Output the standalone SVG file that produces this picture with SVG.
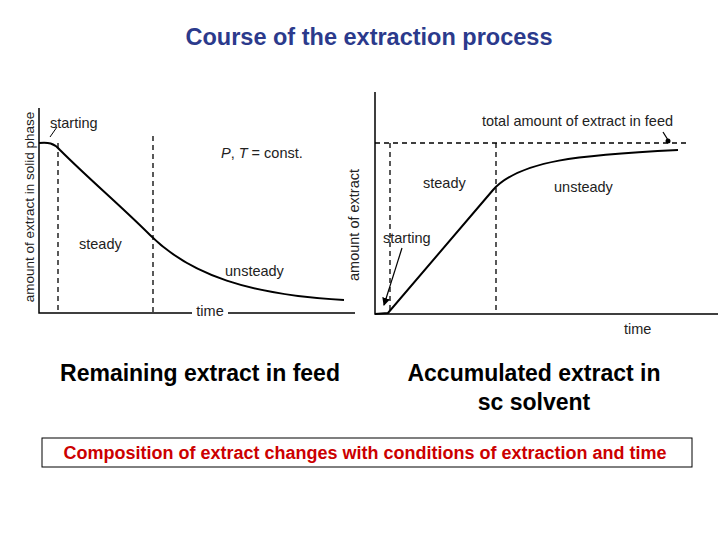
<svg xmlns="http://www.w3.org/2000/svg" width="720" height="540" viewBox="0 0 720 540">
<style>
.s{font-family:"Liberation Sans",Arial,sans-serif;font-size:14.5px;fill:#222}
.ax{stroke:#000;stroke-width:1.5;fill:none}
.d{stroke:#000;stroke-width:1.3;stroke-dasharray:5,4;fill:none}
.c{stroke:#000;stroke-width:2;fill:none}
.big{font-family:"Liberation Sans",Arial,sans-serif;font-size:23px;font-weight:bold;fill:#000}
</style>
<defs><marker id="a" markerWidth="8" markerHeight="8" refX="7" refY="4" orient="auto" markerUnits="userSpaceOnUse"><path d="M0,0 L8,4 L0,8 z" fill="#000"/></marker></defs>
<rect width="720" height="540" fill="#fff"/>
<text x="369" y="45" text-anchor="middle" font-family="Liberation Sans,Arial,sans-serif" font-size="23.5" font-weight="bold" fill="#2b3a8c">Course of the extraction process</text>
<g id="left">
<path class="ax" d="M39,108 V313 H192 M228,313 H355"/>
<path class="d" d="M58,143 V313 M153,136 V313"/>
<path class="c" d="M39,143 C48,142 54,143 60,150 C90,180 120,205 150,235 C190,275 250,295 344,300"/>
<path d="M50,137 L57,127" stroke="#000" stroke-width="1" fill="none"/>
<text class="s" x="50" y="128">starting</text>
<text class="s" x="79" y="249">steady</text>
<text class="s" x="225" y="276">unsteady</text>
<text class="s" x="221" y="158"><tspan font-style="italic">P</tspan>, <tspan font-style="italic">T</tspan> = const.</text>
<text class="s" x="210" y="316" text-anchor="middle">time</text>
<text class="s" style="font-size:13.5px" transform="translate(34,207) rotate(-90)" text-anchor="middle">amount of extract in solid phase</text>
</g>
<g id="right">
<path class="ax" d="M375,92 V314 H718"/>
<path class="d" d="M375,143 H688 M390,143 V314 M496,143 V314"/>
<path class="c" d="M375,314 L388,313 L493,190 C520,160 580,155 678,150"/>
<path d="M402,248 L384,305" stroke="#000" stroke-width="1.2" marker-end="url(#a)"/>
<path d="M663,132 L668,140" stroke="#000" stroke-width="1.2"/>
<circle cx="668" cy="141" r="2.5" fill="#000"/>
<text class="s" x="383" y="243">starting</text>
<text class="s" x="423" y="188">steady</text>
<text class="s" x="554" y="192">unsteady</text>
<text class="s" x="482" y="126">total amount of extract in feed</text>
<text class="s" x="624" y="334">time</text>
<text class="s" transform="translate(359,225) rotate(-90)" text-anchor="middle">amount of extract</text>
</g>
<text class="big" x="200" y="381" text-anchor="middle">Remaining extract in feed</text>
<text class="big" x="534" y="381" text-anchor="middle">Accumulated extract in</text>
<text class="big" x="534" y="410" text-anchor="middle">sc solvent</text>
<g id="note">
<rect x="42" y="438" width="650" height="29" fill="#fff" stroke="#000" stroke-width="1"/>
<text x="365" y="459" text-anchor="middle" font-family="Liberation Sans,Arial,sans-serif" font-size="18" font-weight="bold" fill="#cc0000">Composition of extract changes with conditions of extraction and time</text>
</g>
</svg>
